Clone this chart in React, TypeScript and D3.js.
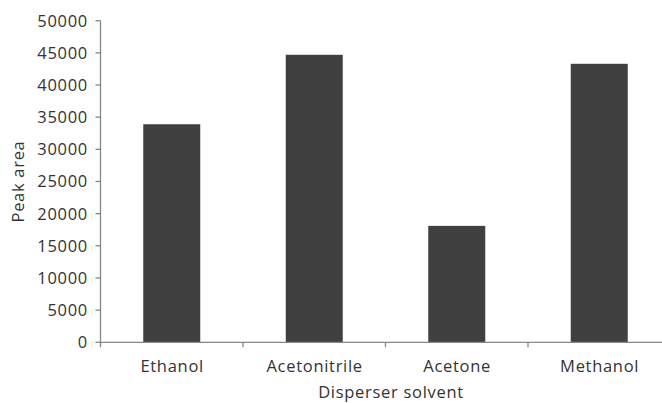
import React, { useEffect, useRef } from 'react';
import * as d3 from 'd3';

const categories = ['Ethanol', 'Acetonitrile', 'Acetone', 'Methanol'];
const peakArea = [33900, 44700, 18100, 43300];
const yTicks = [0, 5000, 10000, 15000, 20000, 25000, 30000, 35000, 40000, 45000, 50000];

const W = 662;
const H = 403;

const App: React.FC = () => {
  const svgRef = useRef<SVGSVGElement>(null);

  useEffect(() => {
    if (!svgRef.current) return;
    const svg = d3.select(svgRef.current);
    svg.selectAll('*').remove();

    const x0 = 100.5;
    const y0 = 342.3;
    const yTop = 20.7;
    const step = 142.5;

    const x = d3.scaleBand<string>()
      .domain(categories)
      .range([x0, x0 + step * categories.length])
      .padding(0);

    const y = d3.scaleLinear().domain([0, 50000]).range([y0, yTop]);

    const font = '"Open Sans", sans-serif';
    const fontSize = '16.5px';
    const spacing = '0.7px';
    const textColor = '#333333';
    const axisColor = '#868686';

    // bars
    const bw = x.bandwidth() * 0.4;
    svg.append('g')
      .selectAll('rect')
      .data(categories)
      .join('rect')
      .attr('x', d => (x(d) as number) + (x.bandwidth() - bw) / 2)
      .attr('y', (d, i) => y(peakArea[i]))
      .attr('width', bw)
      .attr('height', (d, i) => y0 - y(peakArea[i]))
      .attr('fill', '#404040');

    // y axis
    const ya = svg.append('g');
    ya.append('line')
      .attr('x1', x0).attr('x2', x0)
      .attr('y1', yTop).attr('y2', y0)
      .attr('stroke', axisColor).attr('stroke-width', 1.3);
    ya.selectAll('line.tick')
      .data(yTicks)
      .join('line')
      .attr('class', 'tick')
      .attr('x1', x0 - 5).attr('x2', x0)
      .attr('y1', d => y(d)).attr('y2', d => y(d))
      .attr('stroke', axisColor).attr('stroke-width', 1.3);
    ya.selectAll('text')
      .data(yTicks)
      .join('text')
      .attr('x', x0 - 12.5)
      .attr('y', d => y(d))
      .attr('dy', '0.36em')
      .attr('text-anchor', 'end')
      .style('font-family', font)
      .style('font-size', fontSize)
      .style('letter-spacing', spacing)
      .attr('fill', textColor)
      .text(d => String(d));

    // x axis
    const xa = svg.append('g');
    xa.append('line')
      .attr('x1', x0).attr('x2', W)
      .attr('y1', y0).attr('y2', y0)
      .attr('stroke', axisColor).attr('stroke-width', 1.3);
    const bounds = categories.map(c => x(c) as number).concat([x0 + step * categories.length]);
    xa.selectAll('line.tick')
      .data(bounds)
      .join('line')
      .attr('class', 'tick')
      .attr('x1', d => d).attr('x2', d => d)
      .attr('y1', y0).attr('y2', y0 + 5)
      .attr('stroke', axisColor).attr('stroke-width', 1.3);
    xa.selectAll('text')
      .data(categories)
      .join('text')
      .attr('x', d => (x(d) as number) + x.bandwidth() / 2 + 0.4)
      .attr('y', 372)
      .attr('text-anchor', 'middle')
      .style('font-family', font)
      .style('font-size', fontSize)
      .style('letter-spacing', spacing)
      .attr('fill', textColor)
      .text(d => d);

    // axis titles
    svg.append('text')
      .attr('x', 391)
      .attr('y', 398)
      .attr('text-anchor', 'middle')
      .style('font-family', font)
      .style('font-size', fontSize)
      .style('letter-spacing', spacing)
      .attr('fill', textColor)
      .text('Disperser solvent');

    svg.append('text')
      .attr('transform', `translate(24,${(yTop + y0) / 2}) rotate(-90)`)
      .attr('text-anchor', 'middle')
      .style('font-family', font)
      .style('font-size', fontSize)
      .style('letter-spacing', spacing)
      .attr('fill', textColor)
      .text('Peak area');
  }, []);

  return (
    <div style={{ position: 'fixed', left: 0, top: 0, width: W, height: H, background: '#fff' }}>
      <svg ref={svgRef} width={W} height={H} style={{ display: 'block' }} />
    </div>
  );
};

export default App;
